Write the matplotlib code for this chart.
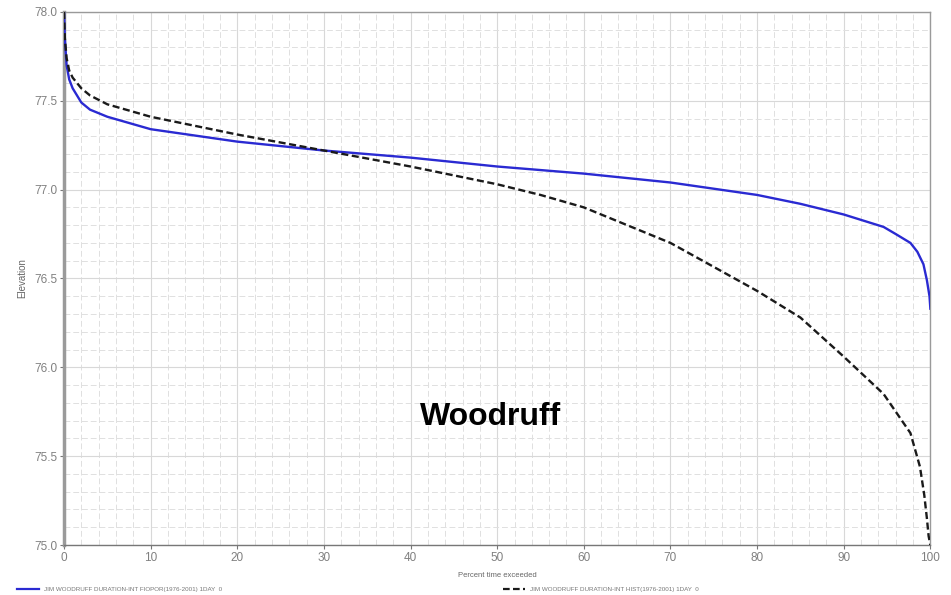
import matplotlib
matplotlib.use('Agg')
import matplotlib.pyplot as plt
from matplotlib.lines import Line2D
from matplotlib.ticker import MultipleLocator, FormatStrFormatter

plt.rcParams['font.family'] = ['Liberation Sans', 'DejaVu Sans']

# Duration curve values
# --------------
pct_fiopor = [0, 0.1, 0.3, 0.6, 1, 2, 3, 5, 10, 20, 30, 40, 50, 60, 70, 80, 85, 90, 94.6, 96, 97.7, 98.5, 99.2, 99.6, 99.9, 100]
elev_fiopor = [78.0, 77.85, 77.7, 77.62, 77.57, 77.49, 77.45, 77.41, 77.34, 77.27, 77.22, 77.18, 77.13, 77.09, 77.04, 76.97, 76.92, 76.86, 76.79, 76.75, 76.70, 76.65, 76.58, 76.49, 76.40, 76.33]

pct_hist = [0, 0.1, 0.3, 0.6, 1, 2, 3, 5, 10, 20, 30, 40, 50, 55, 60, 70, 80, 85, 90, 94.6, 97.7, 98.8, 99.3, 99.6, 99.8, 100]
elev_hist = [78.0, 77.85, 77.74, 77.67, 77.63, 77.57, 77.53, 77.48, 77.41, 77.31, 77.22, 77.13, 77.03, 76.97, 76.90, 76.70, 76.43, 76.28, 76.06, 75.85, 75.63, 75.44, 75.28, 75.15, 75.05, 75.0]

label_fiopor = 'JIM WOODRUFF DURATION-INT FIOPOR(1976-2001) 1DAY  0'
label_hist = 'JIM WOODRUFF DURATION-INT HIST(1976-2001) 1DAY  0'

# Figure
fig = plt.figure(figsize=(9.51, 5.95), dpi=100)
ax = fig.add_axes([0.0673, 0.084, 0.911, 0.896])

ax.plot(pct_fiopor, elev_fiopor, color='#2a2ad2', linewidth=1.7, zorder=3)
ax.plot(pct_hist, elev_hist, color='#1a1a1a', linewidth=1.7, linestyle=(0, (3, 1.5)), zorder=3)

ax.set_xlim(0, 100)
ax.set_ylim(75.0, 78.0)
ax.xaxis.set_major_locator(MultipleLocator(10))
ax.xaxis.set_minor_locator(MultipleLocator(2))
ax.yaxis.set_major_locator(MultipleLocator(0.5))
ax.yaxis.set_minor_locator(MultipleLocator(0.1))
ax.yaxis.set_major_formatter(FormatStrFormatter('%.1f'))

# Grid lines
ax.grid(which='major', color='#d8d8d8', linewidth=0.8, linestyle='-')
ax.grid(which='minor', color='#e0e0e0', linewidth=0.7, linestyle=(0, (6, 3)))
ax.set_axisbelow(True)

for s in ax.spines.values():
    s.set_color('#9a9a9a')
    s.set_linewidth(1.0)
ax.spines['left'].set_linewidth(2.5)
ax.spines['bottom'].set_color('#777777')

ax.tick_params(which='minor', length=0)
ax.tick_params(which='major', length=3, color='#777777', labelsize=8.5, labelcolor='#808080', pad=2)

ax.set_xlabel('Percent time exceeded', fontsize=5.5, color='#666666', labelpad=6)
ax.set_ylabel('Elevation', fontsize=7, color='#666666', labelpad=5)

ax.text(49.2, 75.72, 'Woodruff', fontsize=23, fontweight='bold', ha='center', va='center', color='black')

# Legend
handles = [Line2D([], [], color='#2a2ad2', linewidth=1.6),
           Line2D([], [], color='#1a1a1a', linewidth=1.6, linestyle=(0, (3, 1.5)))]
fig.legend(handles, [label_fiopor, label_hist], loc='lower left', bbox_to_anchor=(0.012, -0.005),
           ncol=2, frameon=False, fontsize=4.5, labelcolor='#777777', columnspacing=45, handlelength=3.5)

fig.savefig('out.png', dpi=100, facecolor='w')
